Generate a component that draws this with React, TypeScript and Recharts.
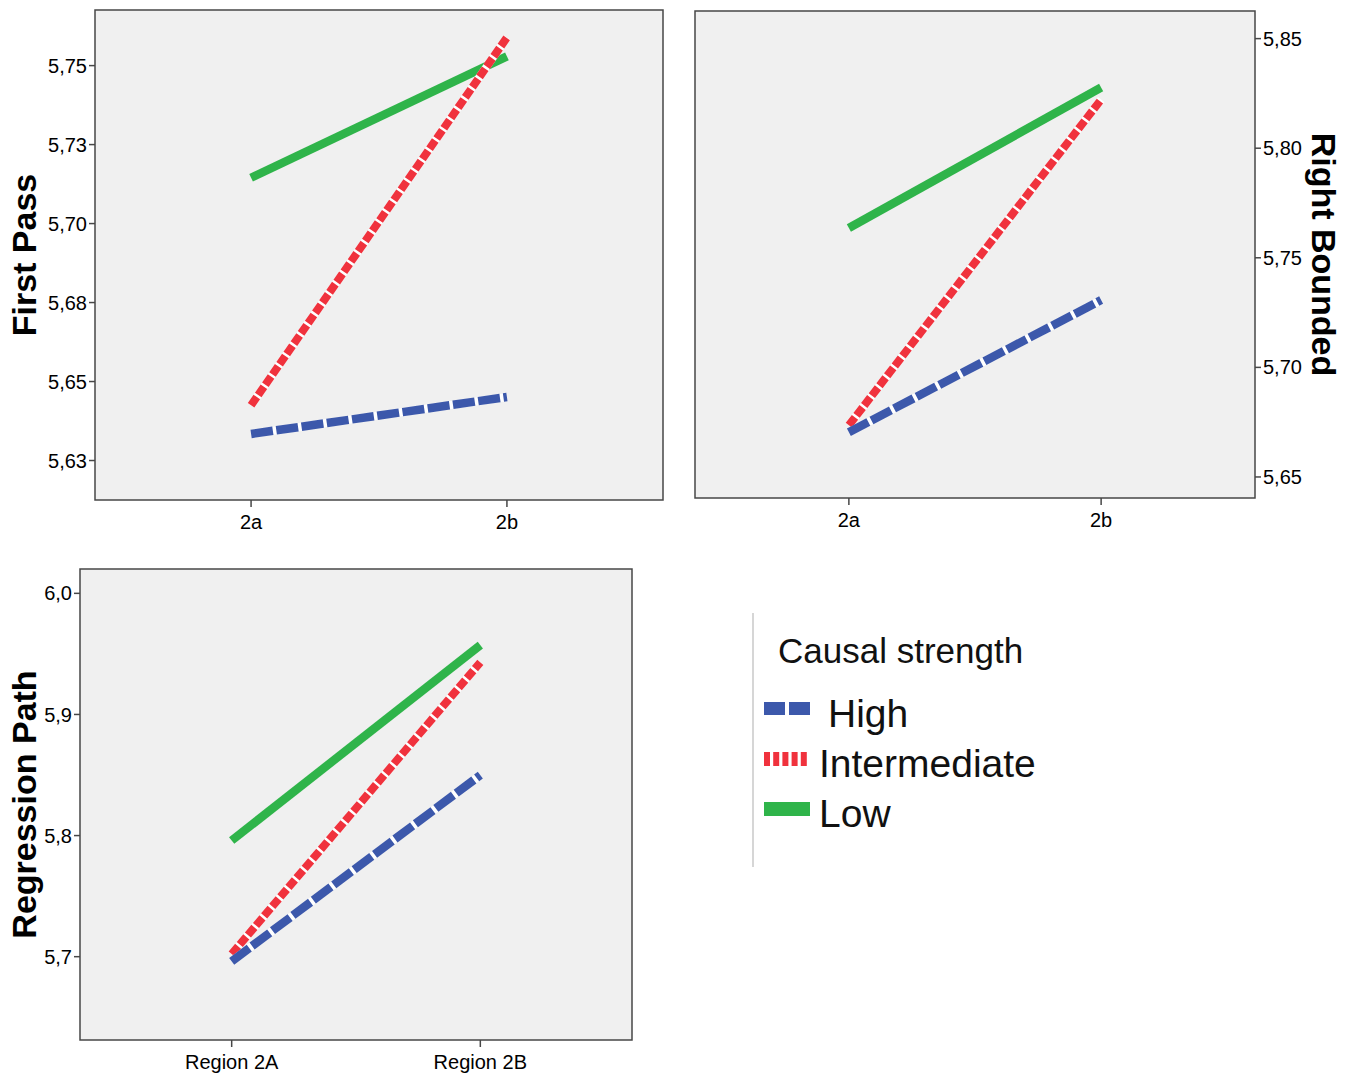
import React from 'react';
import {
  LineChart,
  Line,
  XAxis,
  YAxis,
  CartesianGrid,
  ReferenceArea,
  Legend,
} from 'recharts';

// categories
const regionsTop = ['2a', '2b'];
const regionsBottom = ['Region 2A', 'Region 2B'];

// First Pass
const firstPassHigh = [5.6334, 5.6451];
const firstPassIntermediate = [5.6425, 5.7589];
const firstPassLow = [5.7145, 5.7529];
const firstPassTicks = [5.625, 5.65, 5.675, 5.7, 5.725, 5.75];
const firstPassTickLabels = ['5,63', '5,65', '5,68', '5,70', '5,73', '5,75'];

// Right Bounded
const rightBoundedHigh = [5.6704, 5.7307];
const rightBoundedIntermediate = [5.6736, 5.8222];
const rightBoundedLow = [5.7636, 5.8277];
const rightBoundedTicks = [5.65, 5.7, 5.75, 5.8, 5.85];
const rightBoundedTickLabels = ['5,65', '5,70', '5,75', '5,80', '5,85'];

// Regression Path
const regressionHigh = [5.6962, 5.8499];
const regressionIntermediate = [5.7022, 5.943];
const regressionLow = [5.7959, 5.9573];
const regressionTicks = [5.7, 5.8, 5.9, 6.0];
const regressionTickLabels = ['5,7', '5,8', '5,9', '6,0'];

const legendTitle = 'Causal strength';
const legendKeys = ['high', 'intermediate', 'low'];
const legendNames = ['High', 'Intermediate', 'Low'];

const BLUE = '#3c58ab';
const RED = '#f0323d';
const GREEN = '#2fb44a';
const FRAME = '#474747';
const FONT = '"Liberation Sans", Arial, Helvetica, sans-serif';
const X_PAD = 0.61;

const buildRows = (labels: string[], high: number[], mid: number[], low: number[]) =>
  labels.map((label, i) => ({ x: i, region: label, high: high[i], intermediate: mid[i], low: low[i] }));

const firstPassData = buildRows(regionsTop, firstPassHigh, firstPassIntermediate, firstPassLow);
const rightBoundedData = buildRows(regionsTop, rightBoundedHigh, rightBoundedIntermediate, rightBoundedLow);
const regressionData = buildRows(regionsBottom, regressionHigh, regressionIntermediate, regressionLow);

const swatch = (key: string, y: number) => {
  if (key === 'high') {
    return (
      <g>
        <rect x={24} y={y} width={21} height={13} fill={BLUE} />
        <rect x={49} y={y} width={21} height={13} fill={BLUE} />
      </g>
    );
  }
  if (key === 'intermediate') {
    return (
      <g>
        {[0, 1, 2, 3, 4].map((k) => (
          <rect key={k} x={24 + k * 9.2} y={y} width={6} height={14} fill={RED} />
        ))}
      </g>
    );
  }
  return <rect x={24} y={y} width={46} height={14} fill={GREEN} />;
};

const renderLegend = () => {
  const rowY = [102, 152, 202];
  const textX = [88, 79, 79];
  return (
    <svg width={320} height={270} style={{ fontFamily: FONT, overflow: 'visible', display: 'block' }}>
      <line x1={13} y1={13} x2={13} y2={267} stroke="#c8c8c8" strokeWidth={1.5} />
      <text x={38} y={63} fontSize={35} fill="#111">
        {legendTitle}
      </text>
      {legendKeys.map((key, i) => (
        <g key={key}>
          {swatch(key, rowY[i])}
          <text x={textX[i]} y={rowY[i] + 25} fontSize={39} fill="#111">
            {legendNames[i]}
          </text>
        </g>
      ))}
    </svg>
  );
};

interface PanelProps {
  data: any[];
  labels: string[];
  ticks: number[];
  tickLabels: string[];
  domain: [number, number];
  title: string;
  width: number;
  height: number;
  margin: { top: number; right: number; bottom: number; left: number };
  yWidth: number;
  xHeight: number;
  yRight?: boolean;
  titleOffset: number;
  withLegend?: boolean;
}

function Panel(p: PanelProps) {
  const tickFmt = (v: number) => {
    const i = p.ticks.findIndex((t) => Math.abs(t - v) < 1e-9);
    return i >= 0 ? p.tickLabels[i] : '';
  };
  return (
    <LineChart width={p.width} height={p.height} data={p.data} margin={p.margin}>
      <CartesianGrid fill="#f0f0f0" horizontal={false} vertical={false} />
      <XAxis
        dataKey="x"
        type="number"
        domain={[-X_PAD, 1 + X_PAD]}
        ticks={[0, 1]}
        interval={0}
        allowDataOverflow
        tickFormatter={(v: number) => p.labels[v]}
        height={p.xHeight}
        axisLine={false}
        tickLine={{ stroke: FRAME, strokeWidth: 1.5 }}
        tickSize={7}
        tickMargin={8}
        tick={{ fontSize: 20, fill: '#000' }}
      />
      <YAxis
        type="number"
        orientation={p.yRight ? 'right' : 'left'}
        domain={p.domain}
        ticks={p.ticks}
        interval={0}
        allowDataOverflow
        tickFormatter={tickFmt}
        width={p.yWidth}
        axisLine={false}
        tickLine={{ stroke: FRAME, strokeWidth: 1.5 }}
        tickSize={6}
        tickMargin={2}
        tick={{ fontSize: 20, fill: '#000' }}
        label={{
          value: p.title,
          angle: p.yRight ? 90 : -90,
          position: p.yRight ? 'insideRight' : 'insideLeft',
          offset: p.titleOffset,
          style: { textAnchor: 'middle', fontWeight: 'bold', fontSize: 34, fill: '#000' },
        }}
      />
      <Line
        type="linear"
        dataKey="low"
        name="Low"
        stroke={GREEN}
        strokeWidth={8.5}
        dot={false}
        activeDot={false}
        isAnimationActive={false}
      />
      <Line
        type="linear"
        dataKey="intermediate"
        name="intermediate-under"
        stroke="#ffffff"
        strokeWidth={8}
        dot={false}
        activeDot={false}
        legendType="none"
        isAnimationActive={false}
      />
      <Line
        type="linear"
        dataKey="intermediate"
        name="Intermediate"
        stroke={RED}
        strokeWidth={8}
        strokeDasharray="10 2.5"
        dot={false}
        activeDot={false}
        isAnimationActive={false}
      />
      <Line
        type="linear"
        dataKey="high"
        name="high-under"
        stroke="#ffffff"
        strokeWidth={8}
        dot={false}
        activeDot={false}
        legendType="none"
        isAnimationActive={false}
      />
      <Line
        type="linear"
        dataKey="high"
        name="High"
        stroke={BLUE}
        strokeWidth={8.5}
        strokeDasharray="22 3.5"
        dot={false}
        activeDot={false}
        isAnimationActive={false}
      />
      <ReferenceArea
        x1={-X_PAD}
        x2={1 + X_PAD}
        y1={p.domain[0]}
        y2={p.domain[1]}
        fill="none"
        fillOpacity={0}
        stroke={FRAME}
        strokeWidth={1.5}
        strokeOpacity={1}
        ifOverflow="visible"
      />
      {p.withLegend && (
        <Legend
          layout="vertical"
          align="center"
          verticalAlign="middle"
          content={renderLegend}
          wrapperStyle={{ left: 740, top: 60, width: 320, height: 270 }}
        />
      )}
    </LineChart>
  );
}

export default function App() {
  return (
    <div
      style={{
        position: 'absolute',
        left: 0,
        top: 0,
        width: 1356,
        height: 1074,
        background: '#ffffff',
        fontFamily: FONT,
      }}
    >
      <div style={{ position: 'absolute', left: 0, top: 0 }}>
        <Panel
          data={firstPassData}
          labels={regionsTop}
          ticks={firstPassTicks}
          tickLabels={firstPassTickLabels}
          domain={[5.6125, 5.7676]}
          title="First Pass"
          width={680}
          height={540}
          margin={{ top: 10, right: 17, bottom: 0, left: 0 }}
          yWidth={95}
          xHeight={40}
          titleOffset={24}
        />
      </div>
      <div style={{ position: 'absolute', left: 680, top: 0 }}>
        <Panel
          data={rightBoundedData}
          labels={regionsTop}
          ticks={rightBoundedTicks}
          tickLabels={rightBoundedTickLabels}
          domain={[5.6404, 5.8626]}
          title="Right Bounded"
          width={676}
          height={540}
          margin={{ top: 11, right: 0, bottom: 0, left: 15 }}
          yWidth={101}
          xHeight={42}
          yRight
          titleOffset={32}
        />
      </div>
      <div style={{ position: 'absolute', left: 0, top: 540 }}>
        <Panel
          data={regressionData}
          labels={regionsBottom}
          ticks={regressionTicks}
          tickLabels={regressionTickLabels}
          domain={[5.6312, 6.0201]}
          title="Regression Path"
          width={680}
          height={534}
          margin={{ top: 29, right: 48, bottom: 0, left: 0 }}
          yWidth={80}
          xHeight={34}
          titleOffset={24}
          withLegend
        />
      </div>
    </div>
  );
}
